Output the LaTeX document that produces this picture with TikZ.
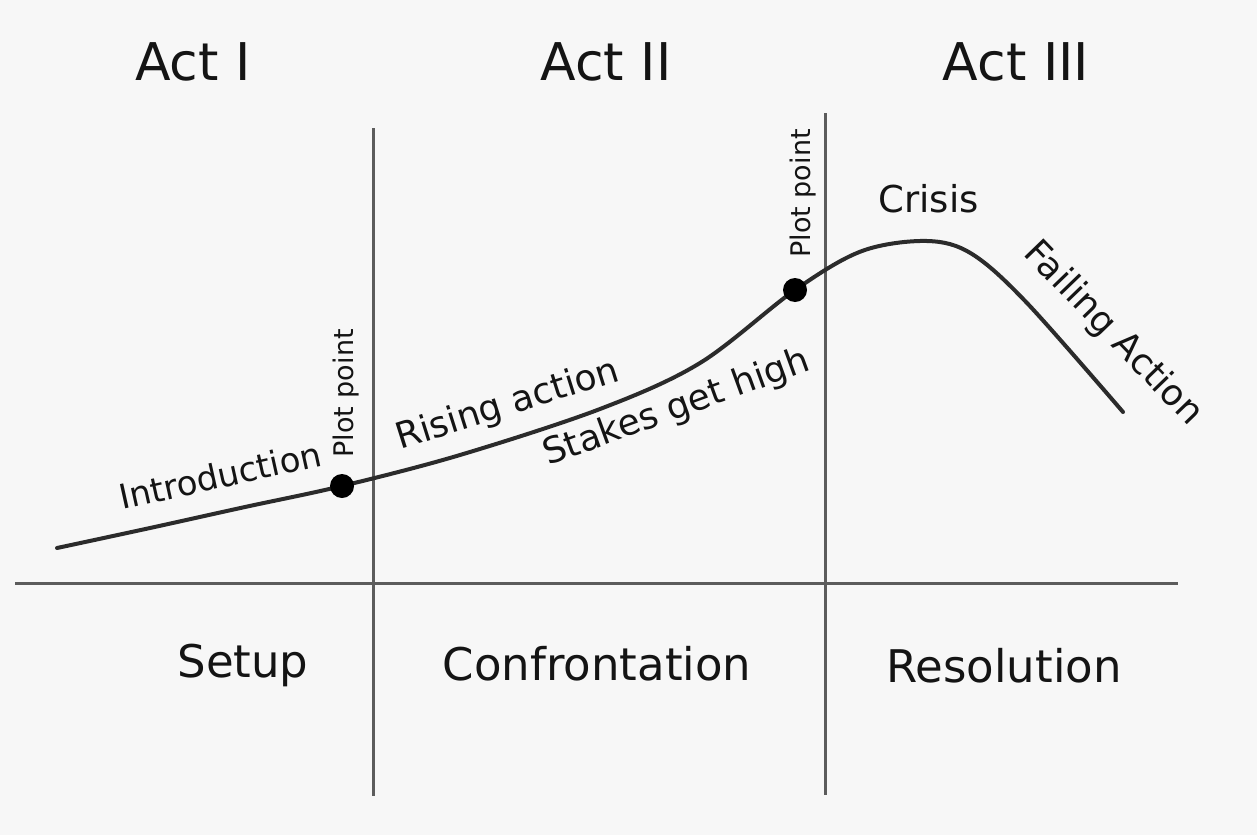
\documentclass[tikz,border=0pt]{standalone}
\usepackage{fontspec}
\setmainfont{DejaVu Sans}
\definecolor{bg}{HTML}{F7F7F7}
\definecolor{axisgray}{HTML}{5C5C5C}
\definecolor{curvegray}{HTML}{2B2B2B}
\definecolor{ink}{HTML}{141414}
\begin{document}
\begin{tikzpicture}[x=0.5pt,y=-0.5pt,
  axisline/.style={draw=axisgray, line width=1.5pt},
  storyline/.style={draw=curvegray, line width=2pt, line cap=round},
  plotdot/.style={circle, fill=black, inner sep=0pt, minimum size=12pt},
  acttitle/.style={font=\fontsize{26}{30}\selectfont, text=ink, anchor=base, inner sep=0pt},
  phase/.style={font=\fontsize{22.5}{27}\selectfont, text=ink, anchor=base, inner sep=0pt},
  curvelabel/.style={font=\fontsize{18}{22}\selectfont, text=ink, anchor=base west, inner sep=0pt},
  pplabel/.style={font=\fontsize{13.5}{16}\selectfont, text=ink, anchor=base west, inner sep=0pt, rotate=90}]
\fill[bg] (0,0) rectangle (1257,835);
\useasboundingbox (0,0) rectangle (1257,835);

% axes
\coordinate (axL) at (15,583);
\coordinate (axR) at (1178,583);
\coordinate (v1T) at (373,128);
\coordinate (v1B) at (373,796);
\coordinate (v2T) at (825,113);
\coordinate (v2B) at (825,795);
\draw[axisline] (axL) -- (axR);
\draw[axisline] (v1T) -- (v1B);
\draw[axisline] (v2T) -- (v2B);

% story curve
\coordinate (c0) at (57,548);
\coordinate (c1) at (150,528);
\coordinate (c2) at (245,507);
\coordinate (p1) at (342,486);
\coordinate (c3) at (460,455);
\coordinate (c4) at (600,409);
\coordinate (c5) at (700,363);
\coordinate (p2) at (795,290);
\coordinate (c7) at (862,251);
\coordinate (c8) at (927,241);
\coordinate (c9) at (972,254);
\coordinate (c10) at (1027,303);
\coordinate (c11) at (1123,412);
\draw[storyline] plot[smooth, tension=0.55] coordinates {(c0) (c1) (c2) (p1) (c3) (c4) (c5) (p2) (c7) (c8) (c9) (c10) (c11)};
\node[plotdot] (dot1) at (p1) {};
\node[plotdot] (dot2) at (p2) {};

% act titles
\node[acttitle] (act1) at (193,80) {Act I};
\node[acttitle] (act2) at (606,80) {Act II};
\node[acttitle] (act3) at (1016,80) {Act III};

% phases
\node[phase] (setup) at (243,677) {Setup};
\node[phase] (confr) at (597,680) {Confrontation};
\node[phase] (resol) at (1004,682) {Resolution};

% curve labels
\node[curvelabel, rotate=12.5, font=\fontsize{17}{21}\selectfont] (intro) at (122,510) {Introduction};
\node[curvelabel, rotate=17.5] (rising) at (400,450) {Rising action};
\node[curvelabel, rotate=20] (stakes) at (548,466) {Stakes get high};
\node[curvelabel, font=\fontsize{18.5}{22}\selectfont] (crisis) at (878,212) {Crisis};
\node[font=\fontsize{18}{22}\selectfont, text=ink, rotate=-46, inner sep=0pt] (falling) at (1113,334) {Failing Action};
\node[pplabel] (pp1) at (353,458) {Plot point};
\node[pplabel] (pp2) at (810,258) {Plot point};
\end{tikzpicture}
\end{document}
